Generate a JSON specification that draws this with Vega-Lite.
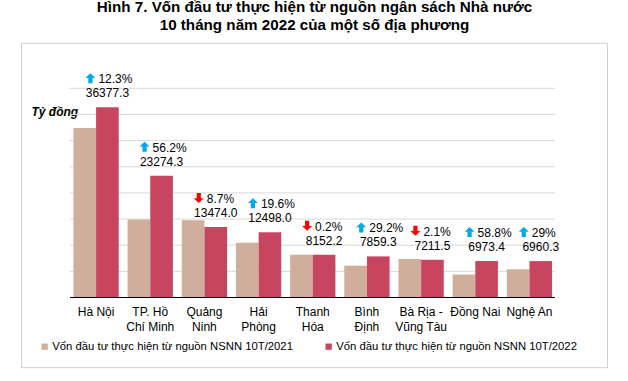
{
  "$schema": "https://vega.github.io/schema/vega-lite/v6.json",
  "width": 587,
  "height": 325,
  "autosize": "none",
  "padding": {"left": 21, "top": 43, "right": 20, "bottom": 13},
  "background": "#ffffff",
  "config": {
    "font": "Liberation Sans",
    "view": {"stroke": null}
  },
  "title": {
    "text": ["Hình 7. Vốn đầu tư thực hiện từ nguồn ngân sách Nhà nước", "10 tháng năm 2022 của một số địa phương"],
    "font": "Liberation Sans",
    "fontSize": 15.2,
    "fontWeight": "bold",
    "color": "#000000",
    "anchor": "middle",
    "frame": "group",
    "lineHeight": 18,
    "offset": 9
  },
  "datasets": {
    "von": [
      {"tinh": "Hà Nội", "ky": "Vốn đầu tư thực hiện từ nguồn NSNN 10T/2021", "gia_tri": 32393.0},
      {"tinh": "Hà Nội", "ky": "Vốn đầu tư thực hiện từ nguồn NSNN 10T/2022", "gia_tri": 36377.3, "tyle": 0.123, "chieu": "tăng"},
      {"tinh": "TP. Hồ Chí Minh", "ky": "Vốn đầu tư thực hiện từ nguồn NSNN 10T/2021", "gia_tri": 14900.3},
      {"tinh": "TP. Hồ Chí Minh", "ky": "Vốn đầu tư thực hiện từ nguồn NSNN 10T/2022", "gia_tri": 23274.3, "tyle": 0.562, "chieu": "tăng"},
      {"tinh": "Quảng Ninh", "ky": "Vốn đầu tư thực hiện từ nguồn NSNN 10T/2021", "gia_tri": 14758.0},
      {"tinh": "Quảng Ninh", "ky": "Vốn đầu tư thực hiện từ nguồn NSNN 10T/2022", "gia_tri": 13474.0, "tyle": 0.087, "chieu": "giảm"},
      {"tinh": "Hải Phòng", "ky": "Vốn đầu tư thực hiện từ nguồn NSNN 10T/2021", "gia_tri": 10449.8},
      {"tinh": "Hải Phòng", "ky": "Vốn đầu tư thực hiện từ nguồn NSNN 10T/2022", "gia_tri": 12498.0, "tyle": 0.196, "chieu": "tăng"},
      {"tinh": "Thanh Hóa", "ky": "Vốn đầu tư thực hiện từ nguồn NSNN 10T/2021", "gia_tri": 8168.5},
      {"tinh": "Thanh Hóa", "ky": "Vốn đầu tư thực hiện từ nguồn NSNN 10T/2022", "gia_tri": 8152.2, "tyle": 0.002, "chieu": "giảm"},
      {"tinh": "Bình Định", "ky": "Vốn đầu tư thực hiện từ nguồn NSNN 10T/2021", "gia_tri": 6083.0},
      {"tinh": "Bình Định", "ky": "Vốn đầu tư thực hiện từ nguồn NSNN 10T/2022", "gia_tri": 7859.3, "tyle": 0.292, "chieu": "tăng"},
      {"tinh": "Bà Rịa - Vũng Tàu", "ky": "Vốn đầu tư thực hiện từ nguồn NSNN 10T/2021", "gia_tri": 7366.2},
      {"tinh": "Bà Rịa - Vũng Tàu", "ky": "Vốn đầu tư thực hiện từ nguồn NSNN 10T/2022", "gia_tri": 7211.5, "tyle": 0.021, "chieu": "giảm"},
      {"tinh": "Đồng Nai", "ky": "Vốn đầu tư thực hiện từ nguồn NSNN 10T/2021", "gia_tri": 4391.3},
      {"tinh": "Đồng Nai", "ky": "Vốn đầu tư thực hiện từ nguồn NSNN 10T/2022", "gia_tri": 6973.4, "tyle": 0.588, "chieu": "tăng"},
      {"tinh": "Nghệ An", "ky": "Vốn đầu tư thực hiện từ nguồn NSNN 10T/2021", "gia_tri": 5395.6},
      {"tinh": "Nghệ An", "ky": "Vốn đầu tư thực hiện từ nguồn NSNN 10T/2022", "gia_tri": 6960.3, "tyle": 0.29, "chieu": "tăng"}
    ],
    "luoi": [
      {"muc": 5000}, {"muc": 10000}, {"muc": 15000}, {"muc": 20000},
      {"muc": 25000}, {"muc": 30000}, {"muc": 35000}, {"muc": 40000}
    ],
    "khung": [
      {"canh": "trên", "muc": 48600},
      {"canh": "dưới", "muc": -13420}
    ]
  },
  "resolve": {"scale": {"x": "independent"}},
  "layer": [
    {
      "data": {"name": "khung"},
      "mark": {"type": "rule", "strokeWidth": 1, "color": "#d0d0d0"},
      "encoding": {
        "y": {"field": "muc", "type": "quantitative"},
        "x": {"datum": 0, "type": "quantitative", "scale": {"domain": [0, 1], "range": [0, 587]}, "axis": null},
        "x2": {"datum": 1}
      }
    },
    {
      "data": {"name": "khung"},
      "transform": [{"filter": "datum.canh == 'trên'"}],
      "mark": {"type": "rule", "strokeWidth": 1, "color": "#d0d0d0"},
      "encoding": {
        "x": {"datum": 0, "type": "quantitative", "scale": {"domain": [0, 1], "range": [0.5, 586.5]}, "axis": null},
        "y": {"datum": 48662, "type": "quantitative"},
        "y2": {"datum": -13480}
      }
    },
    {
      "data": {"name": "khung"},
      "transform": [{"filter": "datum.canh == 'trên'"}],
      "mark": {"type": "rule", "strokeWidth": 1, "color": "#d0d0d0"},
      "encoding": {
        "x": {"datum": 1, "type": "quantitative", "scale": {"domain": [0, 1], "range": [0.5, 586.5]}, "axis": null},
        "y": {"datum": 48662, "type": "quantitative"},
        "y2": {"datum": -13480}
      }
    },
    {
      "data": {"name": "luoi"},
      "mark": {"type": "rule", "strokeWidth": 1, "color": "#d9d9d9"},
      "encoding": {
        "y": {
          "field": "muc",
          "type": "quantitative",
          "scale": {"domain": [-13480, 48662], "nice": false, "zero": false},
          "axis": {
            "title": "Tỷ đồng",
            "labels": false,
            "ticks": false,
            "domain": false,
            "grid": false,
            "titleAngle": 0,
            "titleX": 10,
            "titleY": 68,
            "titleAlign": "left",
            "titleBaseline": "middle",
            "titleFont": "Liberation Sans",
            "titleFontSize": 12,
            "titleFontStyle": "italic",
            "titleFontWeight": "bold",
            "titleColor": "#000000"
          }
        },
        "x": {"datum": 0, "type": "quantitative", "scale": {"domain": [0, 1], "range": [49, 534]}, "axis": null},
        "x2": {"datum": 1}
      }
    },
    {
      "data": {"name": "von"},
      "layer": [
        {
          "mark": {"type": "bar"},
          "encoding": {
            "x": {
              "field": "tinh",
              "type": "nominal",
              "scale": {
                "domain": ["Hà Nội", "TP. Hồ Chí Minh", "Quảng Ninh", "Hải Phòng", "Thanh Hóa", "Bình Định", "Bà Rịa - Vũng Tàu", "Đồng Nai", "Nghệ An"],
                "paddingInner": 0.164,
                "paddingOuter": 1.037,
                "align": 0.484
              },
              "axis": {
                "title": null,
                "domain": false,
                "ticks": false,
                "grid": false,
                "labelAngle": 0,
                "labelOverlap": false,
                "labelPadding": 9,
                "labelFont": "Liberation Sans",
                "labelFontSize": 12,
                "labelColor": "#000000",
                "labelLineHeight": 15,
                "offset": -70.5,
                "labelExpr": "datum.label == 'TP. Hồ Chí Minh' ? ['TP. Hồ', 'Chí Minh'] : datum.label == 'Bà Rịa - Vũng Tàu' ? ['Bà Rịa -', 'Vũng Tàu'] : indexof(['Quảng Ninh', 'Hải Phòng', 'Thanh Hóa', 'Bình Định'], datum.label) >= 0 ? split(datum.label, ' ') : datum.label"
              }
            },
            "xOffset": {
              "field": "ky",
              "type": "nominal",
              "scale": {"paddingInner": 0, "paddingOuter": 0, "domain": ["Vốn đầu tư thực hiện từ nguồn NSNN 10T/2021", "Vốn đầu tư thực hiện từ nguồn NSNN 10T/2022"]}
            },
            "y": {"field": "gia_tri", "type": "quantitative"},
            "y2": {"datum": 0},
            "color": {
              "field": "ky",
              "type": "nominal",
              "scale": {
                "domain": ["Vốn đầu tư thực hiện từ nguồn NSNN 10T/2021", "Vốn đầu tư thực hiện từ nguồn NSNN 10T/2022"],
                "range": ["#cfae9c", "#c8455f"]
              },
              "legend": {
                "title": null,
                "orient": "none",
                "legendX": 18,
                "legendY": 298,
                "direction": "horizontal",
                "symbolType": "square",
                "symbolSize": 40,
                "labelFont": "Liberation Sans",
                "labelFontSize": 11.3,
                "labelColor": "#000000",
                "labelLimit": 400,
                "labelOffset": 2,
                "columnPadding": 30
              }
            }
          }
        },
        {
          "transform": [{"filter": "datum.tyle != null"}],
          "mark": {"type": "text", "baseline": "middle", "align": "center", "dy": -14, "fontSize": 12, "font": "Liberation Sans", "color": "#000000"},
          "encoding": {
            "x": {"field": "tinh", "type": "nominal", "scale": {"domain": ["Hà Nội", "TP. Hồ Chí Minh", "Quảng Ninh", "Hải Phòng", "Thanh Hóa", "Bình Định", "Bà Rịa - Vũng Tàu", "Đồng Nai", "Nghệ An"]}},
            "xOffset": {"field": "ky", "type": "nominal"},
            "y": {"field": "gia_tri", "type": "quantitative"},
            "text": {"field": "gia_tri", "type": "quantitative", "format": ".1f"}
          }
        },
        {
          "transform": [{"filter": "datum.tyle != null"}],
          "mark": {"type": "text", "baseline": "middle", "align": "left", "dy": -28, "dx": -9, "fontSize": 12, "font": "Liberation Sans", "color": "#000000"},
          "encoding": {
            "x": {"field": "tinh", "type": "nominal", "scale": {"domain": ["Hà Nội", "TP. Hồ Chí Minh", "Quảng Ninh", "Hải Phòng", "Thanh Hóa", "Bình Định", "Bà Rịa - Vũng Tàu", "Đồng Nai", "Nghệ An"]}},
            "xOffset": {"field": "ky", "type": "nominal"},
            "y": {"field": "gia_tri", "type": "quantitative"},
            "text": {"field": "tyle", "type": "quantitative", "format": "~%"}
          }
        },
        {
          "transform": [{"filter": "datum.tyle != null"}],
          "mark": {"type": "point", "filled": true, "opacity": 1, "strokeWidth": 0, "size": 100},
          "encoding": {
            "x": {"field": "tinh", "type": "nominal", "scale": {"domain": ["Hà Nội", "TP. Hồ Chí Minh", "Quảng Ninh", "Hải Phòng", "Thanh Hóa", "Bình Định", "Bà Rịa - Vũng Tàu", "Đồng Nai", "Nghệ An"]}},
            "xOffset": {"field": "ky", "type": "nominal"},
            "y": {"field": "gia_tri", "type": "quantitative"},
            "shape": {
              "field": "chieu",
              "type": "nominal",
              "scale": {
                "domain": ["tăng", "giảm"],
                "range": ["M-3.82,-4.8L-2.98,-4.8L-2.98,-5.85L-2.4,-5.85L-3.4,-6.8L-4.4,-5.85L-3.82,-5.85Z", "M-3.82,-6.8L-2.98,-6.8L-2.98,-5.75L-2.4,-5.75L-3.4,-4.8L-4.4,-5.75L-3.82,-5.75Z"]
              },
              "legend": null
            },
            "fill": {
              "field": "chieu",
              "type": "nominal",
              "scale": {"domain": ["tăng", "giảm"], "range": ["#00a8ec", "#ff0000"]},
              "legend": null
            }
          }
        }
      ]
    },
    {
      "data": {"values": [{}]},
      "mark": {"type": "rule", "strokeWidth": 1, "color": "#000000"},
      "encoding": {
        "y": {"datum": 0, "type": "quantitative"},
        "x": {"datum": 0, "type": "quantitative", "scale": {"domain": [0, 1], "range": [49, 534]}, "axis": null},
        "x2": {"datum": 1}
      }
    }
  ]
}
